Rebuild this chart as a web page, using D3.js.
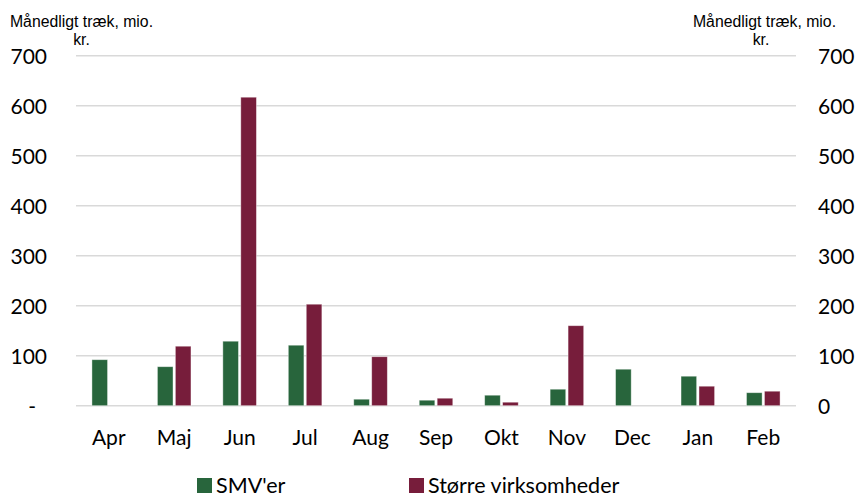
<!DOCTYPE html>
<html>
<head>
<meta charset="utf-8">
<script src="https://cdn.jsdelivr.net/npm/d3@7"></script>
<style>
  body { margin: 0; background: #fff; }
  svg { display: block; }
  .tick line { display: none; }
  .domain { display: none; }
</style>
</head>
<body>
<svg></svg>
<script>
let months = ['Apr', 'Maj', 'Jun', 'Jul', 'Aug', 'Sep', 'Okt', 'Nov', 'Dec', 'Jan', 'Feb'];
let seriesNames = ["SMV'er", 'Større virksomheder'];
let smv = [92, 78, 129, 121, 13, 11, 21, 33, 73, 59, 26];
let stoerre = [0, 119, 617, 203, 98, 15, 7, 160, 0, 39, 29];
let yTicks = [0, 100, 200, 300, 400, 500, 600, 700];
let colors = ['#28653c', '#771d3b'];

let w = 859;
let h = 498;
let plotLeft = 76, plotRight = 796, plotTop = 55.7, plotBottom = 405.7;
let font = 'Lato, Calibri, sans-serif';

let svg = d3.select('svg').attr('width', w).attr('height', h);

let data = months.map((m, i) => ({ month: m, values: [smv[i], stoerre[i]] }));

let x0 = d3.scaleBand().domain(months).range([plotLeft, plotRight]);
let groupW = x0.bandwidth() * 0.513;
let x1 = d3.scaleBand().domain(seriesNames).range([0, groupW]).paddingInner(0.13);
let y = d3.scaleLinear().domain([0, 700]).range([plotBottom, plotTop]);

// gridlines
svg.append('g')
    .selectAll('line')
    .data(yTicks)
    .enter()
    .append('line')
    .attr('x1', plotLeft)
    .attr('x2', plotRight)
    .attr('y1', d => y(d))
    .attr('y2', d => y(d))
    .attr('stroke', '#d9d9d9')
    .attr('stroke-width', 1.5);

// bars
let groups = svg.append('g')
    .selectAll('g')
    .data(data)
    .enter()
    .append('g')
    .attr('transform', d => 'translate(' + (x0(d.month) + (x0.bandwidth() - groupW) / 2) + ',0)');

groups.selectAll('rect')
    .data(d => d.values.map((v, i) => ({ name: seriesNames[i], value: v, i: i })))
    .enter()
    .append('rect')
    .attr('x', d => x1(d.name))
    .attr('width', x1.bandwidth())
    .attr('y', d => y(d.value))
    .attr('height', d => y(0) - y(d.value))
    .attr('fill', d => colors[d.i])
    .attr('stroke', d => d.value > 0 ? '#ffffff' : 'none')
    .attr('stroke-opacity', 0.5)
    .attr('stroke-width', 0.8);

// left axis
let yAxisL = d3.axisLeft(y).tickValues(yTicks).tickSize(0).tickPadding(0)
    .tickFormat(d => d === 0 ? '-' : d);
let gl = svg.append('g')
    .attr('transform', 'translate(47,0)')
    .call(yAxisL);
gl.selectAll('text')
    .attr('font-family', font)
    .attr('font-size', 21)
    .attr('fill', '#000')
    .attr('dy', '0.36em')
    .attr('dx', d => d === 0 ? -11 : 0);

// right axis
let yAxisR = d3.axisRight(y).tickValues(yTicks).tickSize(0).tickPadding(0);
let gr = svg.append('g')
    .attr('transform', 'translate(818,0)')
    .call(yAxisR);
gr.selectAll('text')
    .attr('font-family', font)
    .attr('font-size', 21)
    .attr('fill', '#000')
    .attr('dy', '0.36em');

// x axis
let xAxis = d3.axisBottom(x0).tickSize(0).tickPadding(0);
let gx = svg.append('g')
    .attr('transform', 'translate(0,' + 430 + ')')
    .call(xAxis);
gx.selectAll('text')
    .attr('font-family', font)
    .attr('font-size', 21)
    .attr('fill', '#000')
    .attr('dy', '0.71em');

// axis titles
let titleFont = 'Liberation Sans, Arial, sans-serif';
[[81.5, 'Månedligt træk, mio.', 27], [81.5, 'kr.', 45], [764.5, 'Månedligt træk, mio.', 27], [761, 'kr.', 45]].forEach(t => {
    svg.append('text')
        .attr('x', t[0])
        .attr('y', t[2])
        .attr('text-anchor', 'middle')
        .attr('font-family', titleFont)
        .attr('font-size', 15.8)
        .attr('fill', '#000')
        .text(t[1]);
});

// legend
let legendX = [197, 409];
let legend = svg.append('g')
    .selectAll('g')
    .data(seriesNames)
    .enter()
    .append('g')
    .attr('transform', (d, i) => 'translate(' + legendX[i] + ',478)');
legend.append('rect')
    .attr('width', 15)
    .attr('height', 15)
    .attr('fill', (d, i) => colors[i]);
legend.append('text')
    .attr('x', 19)
    .attr('y', 15)
    .attr('font-family', font)
    .attr('font-size', 21.5)
    .attr('fill', '#000')
    .text(d => d);
</script>
</body>
</html>
